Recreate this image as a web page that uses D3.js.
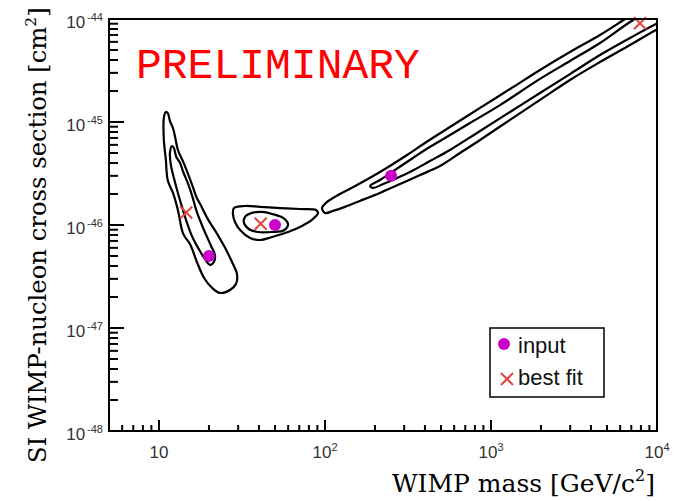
<!DOCTYPE html>
<html>
<head>
<meta charset="utf-8">
<script src="https://cdn.jsdelivr.net/npm/d3@7"></script>
<style>
  body { margin: 0; background: #fff; }
</style>
</head>
<body>
<svg id="chart" width="681" height="501"></svg>
<script>
// axis ranges and tick labels
const massDomain = [5, 10000];
const sigmaDomain = [1e-48, 1e-44];
const xMajorTicks = [10, 100, 1000, 10000];
const xTickExponents = ['', '2', '3', '4'];
const yMajorTicks = [1e-48, 1e-47, 1e-46, 1e-45, 1e-44];
const yTickExponents = ['-48', '-47', '-46', '-45', '-44'];

// input points and best fit points
const inputMass = [20, 50, 250];
const inputSigma = [5e-47, 1e-46, 3e-46];
const fitMass = [14.6, 41, 7900];
const fitSigma = [1.32e-46, 1.03e-46, 9.1e-45];

// contours, [mass GeV, sigma cm2]
const lowMassOuter = [
  [11.0, 1.25e-45], [11.3, 1.22e-45], [11.65, 1.02e-45], [12.15, 8.7e-46], [12.5, 7.2e-46],
  [13.0, 5.35e-46], [14.0, 4.1e-46], [15.0, 3.1e-46], [16.0, 2.34e-46], [16.9, 1.83e-46],
  [17.7, 1.6e-46], [19.7, 1.14e-46], [22.4, 8.2e-47], [25.0, 6.0e-47], [27.5, 4.4e-47],
  [29.5, 3.35e-47], [29.1, 2.67e-47], [26.8, 2.34e-47], [23.3, 2.19e-47], [20.9, 2.45e-47],
  [18.7, 3.06e-47], [16.9, 4.4e-47], [15.4, 6.5e-47], [14.0, 8.2e-47], [13.0, 1.4e-46],
  [12.15, 2.05e-46], [11.3, 2.7e-46], [11.0, 4.3e-46], [10.7, 6.7e-46], [10.7, 1.1e-45]
];
const lowMassInner = [
  [12.0, 5.85e-46], [12.3, 5.6e-46], [12.7, 4.6e-46], [13.4, 4.0e-46], [14.0, 3.27e-46],
  [15.0, 2.5e-46], [15.8, 1.95e-46], [16.9, 1.34e-46], [18.7, 8.9e-47], [20.6, 6.25e-47],
  [21.75, 5.1e-47], [21.45, 4.4e-47], [20.3, 4.1e-47], [18.7, 4.8e-47], [17.2, 6.0e-47],
  [15.8, 7.8e-47], [14.55, 1.12e-46], [13.6, 1.6e-46], [12.85, 2.19e-46], [12.3, 2.86e-46],
  [11.8, 3.8e-46], [11.65, 5.1e-46]
];
const midMassOuter = [
  [28.3, 1.46e-46], [33.0, 1.53e-46], [40.6, 1.5e-46], [53.6, 1.46e-46], [70.7, 1.43e-46],
  [88.3, 1.4e-46], [90.8, 1.31e-46], [83.5, 1.12e-46], [72.7, 9.8e-47], [59.9, 8.55e-47],
  [48.0, 7.65e-47], [40.6, 7.15e-47], [35.4, 7.48e-47], [30.8, 8.94e-47], [28.7, 1.07e-46],
  [27.9, 1.28e-46]
];
const midMassInner = [
  [33.0, 1.2e-46], [36.3, 1.31e-46], [41.7, 1.34e-46], [48.0, 1.28e-46], [55.9, 1.17e-46],
  [59.9, 1.02e-46], [56.7, 8.9e-47], [48.0, 8.55e-47], [39.5, 8.55e-47], [34.9, 9.1e-47],
  [32.5, 1.05e-46]
];
const highMassOuter = [
  [96, 1.46e-46], [101.4, 1.64e-46], [123, 2.0e-46], [152, 2.39e-46], [195, 2.99e-46],
  [246, 3.74e-46], [312, 4.78e-46], [400, 6.25e-46], [566, 8.94e-46], [859, 1.37e-45],
  [1302, 2.09e-45], [1973, 3.2e-45], [2991, 4.78e-45], [4535, 6.99e-45], [6154, 9.56e-45],
  [8467, 1.34e-44], [18160, 2.39e-44],
  [18160, 1.28e-44], [9863, 7.82e-45], [6877, 5.59e-45], [4535, 3.82e-45], [2991, 2.56e-45],
  [1973, 1.64e-45], [1302, 1.05e-45], [859, 6.69e-46], [651, 5.0e-46], [493, 3.74e-46],
  [374, 3.06e-46], [283, 2.5e-46], [214, 2.05e-46], [162, 1.71e-46], [132, 1.5e-46],
  [112, 1.37e-46], [100, 1.31e-46]
];
const highMassInner = [
  [187, 2.39e-46], [214.5, 2.735e-46], [264, 3.42e-46], [325, 4.28e-46], [400, 5.35e-46],
  [493, 6.54e-46], [747, 9.78e-46], [1133, 1.46e-45], [1973, 2.62e-45], [2991, 3.91e-45],
  [4535, 5.85e-45], [6877, 9.35e-45], [9077, 1.22e-44], [18160, 2.14e-44],
  [18160, 1.37e-44], [10425, 9.35e-45], [6877, 6.54e-45], [4535, 4.47e-45], [2991, 2.92e-45],
  [1973, 1.91e-45], [1302, 1.25e-45], [859, 8.18e-46], [566, 5.35e-46], [429, 4.18e-46],
  [325, 3.27e-46], [264, 2.8e-46], [224, 2.5e-46], [195, 2.29e-46]
];
const contours = [lowMassOuter, lowMassInner, midMassOuter, midMassInner, highMassOuter, highMassInner];

const legendLabels = ['input', 'best fit'];

const inputColor = '#c800c8';
const fitColor = '#e0453f';
const margin = {top: 19, right: 24, bottom: 70, left: 109};
const outerWidth = 681;
const outerHeight = 501;
const width = outerWidth - margin.left - margin.right;
const height = outerHeight - margin.top - margin.bottom;

const svg = d3.select('#chart');
const g = svg.append('g')
  .attr('transform', `translate(${margin.left}, ${margin.top})`);

const x = d3.scaleLog().domain(massDomain).range([0, width]);
const y = d3.scaleLog().domain(sigmaDomain).range([height, 0]);

g.append('clipPath').attr('id', 'frame-clip')
  .append('rect').attr('width', width).attr('height', height);

// contours
const contourLine = d3.line()
  .x(d => x(d[0]))
  .y(d => y(d[1]))
  .curve(d3.curveCatmullRomClosed.alpha(0.5));

g.append('g')
  .attr('clip-path', 'url(#frame-clip)')
  .selectAll('path')
  .data(contours)
  .join('path')
  .attr('d', contourLine)
  .attr('fill', 'none')
  .attr('stroke', '#000')
  .attr('stroke-width', 2.2)
  .attr('stroke-linejoin', 'round');

// input points
g.selectAll('.input-pt')
  .data(inputMass)
  .join('circle')
  .attr('class', 'input-pt')
  .attr('cx', d => x(d))
  .attr('cy', (d, i) => y(inputSigma[i]))
  .attr('r', 6)
  .attr('fill', inputColor);

// best fit crosses
function cross(sel, s) {
  return sel.attr('d', `M${-s},${-s}L${s},${s}M${-s},${s}L${s},${-s}`)
    .attr('stroke', fitColor)
    .attr('stroke-width', 2)
    .attr('fill', 'none');
}
g.selectAll('.fit-pt')
  .data(fitMass)
  .join('path')
  .attr('class', 'fit-pt')
  .attr('transform', (d, i) => `translate(${x(d)}, ${y(fitSigma[i])})`)
  .call(cross, 6);

// frame
g.append('rect')
  .attr('width', width)
  .attr('height', height)
  .attr('fill', 'none')
  .attr('stroke', '#000')
  .attr('stroke-width', 2);

// ticks
const xTicks = x.ticks();
const yTicks = y.ticks();
const isMajor = v => Math.abs(Math.log10(v) - Math.round(Math.log10(v))) < 1e-6;

g.selectAll('.xtick')
  .data(xTicks)
  .join('line')
  .attr('x1', d => x(d)).attr('x2', d => x(d))
  .attr('y1', height).attr('y2', d => height - (isMajor(d) ? 11 : 6))
  .attr('stroke', '#000').attr('stroke-width', 2);

g.selectAll('.ytick')
  .data(yTicks)
  .join('line')
  .attr('y1', d => y(d)).attr('y2', d => y(d))
  .attr('x1', 0).attr('x2', d => isMajor(d) ? 15 : 9)
  .attr('stroke', '#000').attr('stroke-width', 2);

// tick labels
const labelFont = '"Liberation Sans", Arial, sans-serif';
const xl = g.selectAll('.xlabel')
  .data(xMajorTicks)
  .join('text')
  .attr('x', d => x(d))
  .attr('y', height + 27)
  .attr('text-anchor', 'middle')
  .attr('font-family', labelFont)
  .attr('font-size', 17)
  .attr('fill', '#333');
xl.append('tspan').text('10');
xl.append('tspan')
  .attr('font-size', 11)
  .attr('dy', -7)
  .text((d, i) => xTickExponents[i]);

const yl = g.selectAll('.ylabel')
  .data(yMajorTicks)
  .join('text')
  .attr('x', -6)
  .attr('y', d => y(d) + 9)
  .attr('text-anchor', 'end')
  .attr('font-family', labelFont)
  .attr('font-size', 17)
  .attr('fill', '#333');
yl.append('tspan').text('10');
yl.append('tspan')
  .attr('font-size', 11)
  .attr('dx', 2)
  .attr('dy', -7)
  .text((d, i) => yTickExponents[i]);

// axis titles
const titleFont = '"DejaVu Serif", serif';
const xt = svg.append('text')
  .attr('x', 655)
  .attr('y', 492)
  .attr('text-anchor', 'end')
  .attr('font-family', titleFont)
  .attr('font-size', 25)
  .attr('fill', '#000');
xt.append('tspan').text('WIMP mass [GeV/c');
xt.append('tspan').attr('font-size', 16).attr('dy', -11).text('2');
xt.append('tspan').attr('dy', 11).text(']');

const yt = svg.append('text')
  .attr('transform', 'translate(46, 463) rotate(-90)')
  .attr('text-anchor', 'start')
  .attr('font-family', titleFont)
  .attr('font-size', 24.3)
  .attr('fill', '#000');
yt.append('tspan').text('SI WIMP-nucleon cross section [cm');
yt.append('tspan').attr('font-size', 15.5).attr('dy', -10).text('2');
yt.append('tspan').attr('dy', 10).text(']');

// PRELIMINARY
svg.append('text')
  .attr('x', 136)
  .attr('y', 78)
  .attr('font-family', '"Courier New", "Nimbus Mono PS", FreeMono, "Liberation Mono", monospace')
  .attr('font-size', 43)
  .attr('fill', '#ff0000')
  .text('PRELIMINARY');

// legend
const legend = svg.append('g').attr('transform', 'translate(490, 328)');
legend.append('rect')
  .attr('width', 114).attr('height', 69)
  .attr('fill', '#fff').attr('stroke', '#000').attr('stroke-width', 1.5);
legend.append('circle')
  .attr('cx', 14).attr('cy', 16).attr('r', 6).attr('fill', inputColor);
legend.append('path')
  .attr('transform', 'translate(17, 51)')
  .call(cross, 6);
legend.selectAll('.leg-text')
  .data(legendLabels)
  .join('text')
  .attr('x', 28)
  .attr('y', (d, i) => 25 + i * 32)
  .attr('font-family', labelFont)
  .attr('font-size', 22)
  .attr('fill', '#111')
  .text(d => d);
</script>
</body>
</html>
